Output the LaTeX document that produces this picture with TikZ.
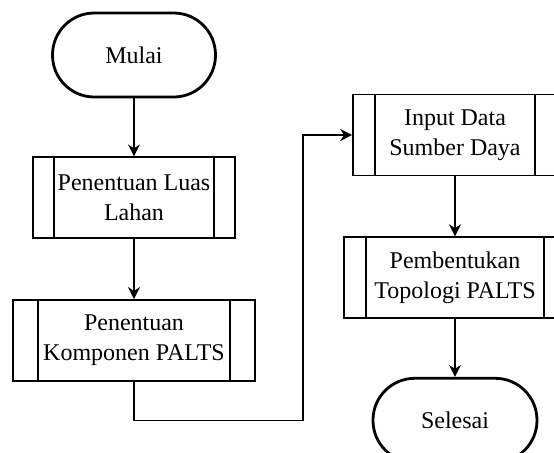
\documentclass[tikz,border=0pt]{standalone}
\usepackage{fontspec}
\setmainfont{Liberation Serif}
\usetikzlibrary{positioning, arrows.meta}

\tikzset{
  terminal/.style={draw, line width=1.4pt, rounded corners=20.9pt, minimum width=81.5pt, minimum height=42pt, font=\fontsize{12}{15}\selectfont},
  proses/.style 2 args={draw, line width=0.8pt, minimum width=#1, minimum height=40.5pt, align=center, inner xsep=0pt, font=\fontsize{12}{15}\selectfont,
    path picture={
      \draw[line width=0.8pt] ([xshift=#2]path picture bounding box.north west) -- ([xshift=#2]path picture bounding box.south west);
      \draw[line width=0.8pt] ([xshift=-#2]path picture bounding box.north east) -- ([xshift=-#2]path picture bounding box.south east);
    }},
  panah/.style={-{Stealth[length=6pt, width=6pt]}, line width=0.8pt}
}

\begin{document}
\begin{tikzpicture}
  \useasboundingbox (0,0) rectangle (277pt,-226pt);
  \clip (0,0) rectangle (277pt,-226pt);

  % kolom kiri
  \node[terminal] (mulai) at (67pt,-27.5pt) {Mulai};
  \node[proses={101pt}{10.5pt}, below=29pt of mulai] (luas) {Penentuan Luas\\ Lahan};
  \node[proses={121pt}{12.5pt}, below=30pt of luas] (komponen) {Penentuan\\ Komponen PALTS};

  % kolom kanan
  \node[proses={102pt}{11pt}] (input) at (227.5pt,-67.5pt) {Input Data\\ Sumber Daya};
  \node[proses={111pt}{11pt}, below=30pt of input] (topologi) {Pembentukan\\ Topologi PALTS};
  \node[terminal, minimum width=82pt, below=29pt of topologi] (selesai) {Selesai};

  \draw[panah] (mulai) -- (luas);
  \draw[panah] (luas) -- (komponen);
  \draw[panah] (komponen.south) -- ++(0,-19.5pt) -| ([xshift=-24.5pt]input.west) -- (input.west);
  \draw[panah] (input) -- (topologi);
  \draw[panah] (topologi) -- (selesai);
\end{tikzpicture}
\end{document}
